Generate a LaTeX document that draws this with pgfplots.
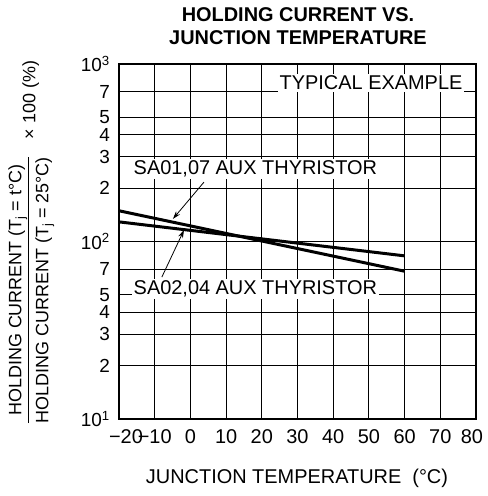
\documentclass[border=0pt]{standalone}
\usepackage{pgfplots}
\pgfplotsset{compat=1.18}
\usepackage{fontspec}
\setmainfont{Liberation Sans}
\usetikzlibrary{arrows.meta}
\begin{document}
\begin{tikzpicture}
\begin{axis}[
  at={(0bp,0bp)}, anchor=south west,
  width=357bp, height=355bp, scale only axis,
  xmin=-20, xmax=80, ymode=log, ymin=10, ymax=1000,
  xtick={-20,-10,0,10,20,30,40,50,60,70,80},
  xticklabels={\hspace*{14bp}−20,−10,0,10,20,30,40,50,60,70,\hspace*{-8bp}80},
  ytick={10,20,30,40,50,70,100,200,300,400,500,700,1000},
  yticklabels={10\textsuperscript{1},2,3,4,5,7,10\textsuperscript{2},2,3,4,5,7,10\textsuperscript{3}},
  grid=major, major grid style={black, line width=0.9bp},
  major tick length=0pt,
  axis line style={line width=2.5bp},
  xticklabel style={font=\fontsize{20}{21}\selectfont, inner sep=1bp, yshift=-9bp},
  yticklabel style={font=\fontsize{19}{20}\selectfont, inner sep=1bp, xshift=-8bp},
  clip=false,
]
\addplot[line width=3bp, black] coordinates {(-20,149) (60,68)};
\addplot[line width=3bp, black] coordinates {(-20,129) (60,83)};
\node[fill=white, inner sep=2bp, font=\fontsize{20}{22}\selectfont] at (axis cs:50.6,782) {TYPICAL EXAMPLE};
\node[fill=white, inner sep=2bp, font=\fontsize{20}{22}\selectfont] at (axis cs:18.2,256) {SA01,07 AUX THYRISTOR};
\node[fill=white, inner sep=2bp, font=\fontsize{20}{22}\selectfont] at (axis cs:18.2,54) {SA02,04 AUX THYRISTOR};
\draw[-{Stealth[length=8bp,width=5bp]}, line width=0.8bp] (axis cs:3.8,216) -- (axis cs:-4.9,134);
\draw[-{Stealth[length=8bp,width=5bp]}, line width=0.8bp] (axis cs:-8,63) -- (axis cs:-1.8,116);
\end{axis}
\node[font=\bfseries\fontsize{20}{23}\selectfont, align=center] at (179bp,392.5bp) {HOLDING CURRENT VS.\\JUNCTION TEMPERATURE};
\node[font=\fontsize{20}{21}\selectfont] at (178bp,-59bp) {JUNCTION TEMPERATURE\ \ (°C)};
\node[rotate=90, font=\fontsize{18}{20}\selectfont, inner sep=0pt] at (-88bp,177bp) {\setlength{\arrayrulewidth}{1bp}\begin{tabular}{@{}c@{}}HOLDING CURRENT (T\textsubscript{j} = t°C)\\[1bp]\hline\rule{0pt}{19bp}HOLDING CURRENT (T\textsubscript{j} = 25°C)\end{tabular}\hspace{18bp}× 100 (\%)};
\pgfresetboundingbox
\path[use as bounding box] (-119bp,-77bp) rectangle (369bp,419bp);
\end{tikzpicture}
\end{document}
